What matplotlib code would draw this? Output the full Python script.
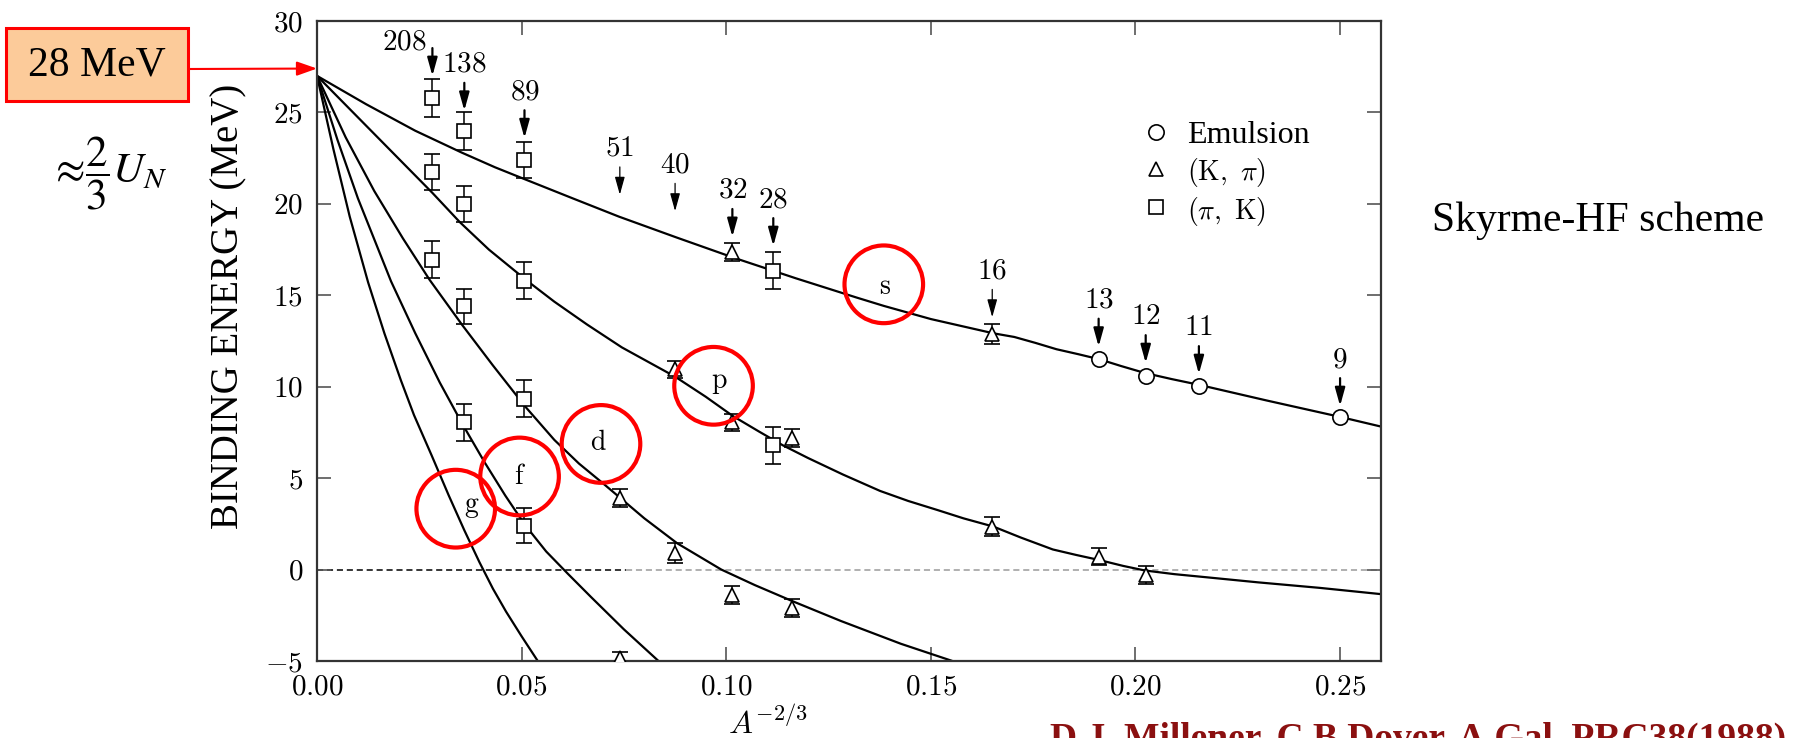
import matplotlib.pyplot as plt
from matplotlib.patches import Ellipse, Rectangle
from matplotlib.lines import Line2D
from matplotlib.ticker import FuncFormatter, MultipleLocator

plt.rcParams['font.family'] = ['Liberation Serif', 'DejaVu Serif']
plt.rcParams['mathtext.fontset'] = 'cm'

# Skyrme-HF curves for each Lambda orbit: A^-2/3 vs binding energy (MeV)
s_x = [0.0, 0.012, 0.024, 0.0354, 0.0435, 0.0513, 0.0625, 0.0738, 0.088, 0.1019,
       0.117, 0.1318, 0.1385, 0.15, 0.1653, 0.1704, 0.1755, 0.1807, 0.186, 0.1912,
       0.1965, 0.2023, 0.2088, 0.2156, 0.232, 0.25, 0.26]
s_y = [27.0, 25.45, 24.0, 22.8, 22.0, 21.3, 20.3, 19.3, 18.15, 17.05,
       15.93, 14.88, 14.42, 13.7, 12.92, 12.72, 12.4, 12.05, 11.78, 11.5,
       11.13, 10.75, 10.42, 10.1, 9.25, 8.35, 7.82]
p_x = [0.0, 0.0282, 0.0349, 0.042, 0.0513, 0.058, 0.066, 0.0745, 0.0875, 0.095,
       0.1016, 0.108, 0.1138, 0.12, 0.1285, 0.1376, 0.1445, 0.1517, 0.158, 0.1653,
       0.172, 0.1798, 0.1855, 0.1912, 0.197, 0.2023, 0.2095, 0.2173, 0.23, 0.245, 0.2603]
p_y = [27.0, 20.6, 19.0, 17.5, 15.8, 14.65, 13.4, 12.15, 10.55, 9.45,
       8.4, 7.55, 6.8, 6.1, 5.2, 4.3, 3.75, 3.25, 2.8, 2.35,
       1.75, 1.1, 0.8, 0.52, 0.2, -0.05, -0.25, -0.42, -0.7, -1.0, -1.35]
d_x = [0.0, 0.007, 0.014, 0.021, 0.0275, 0.0355, 0.043, 0.0509, 0.058, 0.064,
       0.0697, 0.0742, 0.08, 0.088, 0.0988, 0.107, 0.1161, 0.128, 0.1427, 0.155]
d_y = [27.0, 23.64, 20.7, 18.11, 15.85, 13.37, 11.16, 8.91, 7.09, 5.8,
       4.75, 3.9, 2.8, 1.44, 0.0, -0.85, -1.72, -2.81, -4.06, -4.98]
f_x = [0.0, 0.005, 0.010, 0.0181, 0.024, 0.030, 0.0355, 0.041, 0.046, 0.0509,
       0.056, 0.0613, 0.067, 0.075, 0.0833]
f_y = [27.0, 23.5, 20.3, 15.76, 12.93, 10.23, 7.97, 5.85, 4.05, 2.42,
       0.99, -0.23, -1.51, -3.27, -4.97]
g_x = [0.0, 0.004, 0.008, 0.0125, 0.0165, 0.0205, 0.0237, 0.028, 0.0322, 0.036,
       0.0397, 0.043, 0.0462, 0.05, 0.0538]
g_y = [27.0, 23.0, 19.3, 15.7, 12.9, 10.35, 8.45, 6.25, 4.05, 2.15,
       0.4, -1.05, -2.3, -3.65, -4.95]

# (pi,K) data
pik_x = [0.0282, 0.0360, 0.0507, 0.0282, 0.0360, 0.0282, 0.0507, 0.0360,
         0.1115, 0.0360, 0.0507, 0.0507, 0.1115]
pik_y = [25.8, 24.0, 22.4, 21.75, 20.0, 16.95, 15.8, 14.4,
         16.35, 8.05, 9.35, 2.4, 6.8]
pik_err = [1.05, 1.05, 1.0, 1.0, 1.0, 1.0, 1.0, 0.95, 1.0, 1.0, 1.0, 0.95, 1.0]

# (K,pi) data
kpi_x = [0.1015, 0.1650, 0.0875, 0.1015, 0.1160, 0.0740, 0.0875, 0.1015,
         0.1160, 0.0740, 0.1650, 0.1910, 0.2025]
kpi_y = [17.35, 12.9, 10.95, 8.05, 7.2, 3.9, 0.9, -1.4,
         -2.1, -4.85, 2.35, 0.7, -0.3]
kpi_err = [0.5, 0.55, 0.45, 0.45, 0.5, 0.5, 0.55, 0.5, 0.5, 0.35, 0.5, 0.47, 0.5]

# emulsion data
emu_x = [0.1910, 0.2025, 0.2155, 0.2500]
emu_y = [11.5, 10.6, 10.05, 8.35]

# mass-number markers above the s curve
mass_labels = ['208', '138', '89', '51', '40', '32', '28', '16', '13', '12', '11', '9']
mass_x = [0.0282, 0.0360, 0.0507, 0.0740, 0.0875, 0.1015, 0.1115, 0.1650,
          0.1910, 0.2025, 0.2155, 0.2500]
arrow_tip = [27.0, 25.1, 23.6, 20.5, 19.6, 18.2, 17.7, 13.8, 12.2, 11.3, 10.7, 8.95]

# orbit labels in red circles
orbits = ['s', 'p', 'd', 'f', 'g']
ring_x = [0.1385, 0.0969, 0.0694, 0.0495, 0.0339]
ring_y = [15.6, 10.05, 6.87, 5.09, 3.33]
letter_x = [0.1387, 0.0983, 0.0688, 0.0495, 0.0378]
letter_y = [15.42, 10.15, 6.87, 5.05, 3.42]

fig = plt.figure(figsize=(17.94, 7.38), dpi=100)
W, H = 1794, 738
ax = fig.add_axes([317 / W, 1 - 661 / H, (1381 - 317) / W, (661 - 21) / H])

for xs, ys in [(s_x, s_y), (p_x, p_y), (d_x, d_y), (f_x, f_y), (g_x, g_y)]:
    ax.plot(xs, ys, color='black', lw=1.6, zorder=2, solid_joinstyle='round')

ax.axhline(0, xmax=0.29, color='black', lw=1.1, ls=(0, (4, 2.5)), zorder=1)
ax.axhline(0, xmin=0.29, color='#9a9a9a', lw=1.1, ls=(0, (4, 2.5)), zorder=1)

ebar = dict(ls='none', color='black', mfc='white', mec='black', mew=1.2,
            elinewidth=1.1, capsize=6, capthick=1.1, zorder=3)
ax.errorbar(pik_x, pik_y, yerr=pik_err, marker='s', ms=9.5, **ebar)
ax.errorbar(kpi_x, kpi_y, yerr=kpi_err, marker='^', ms=10.5, **ebar)
ax.plot(emu_x, emu_y, ls='none', marker='o', ms=11, mfc='white', mec='black',
        mew=1.2, zorder=3)

for lab, x, tip in zip(mass_labels, mass_x, arrow_tip):
    light = lab in ('51', '40', '16')
    ax.annotate('', xy=(x, tip), xytext=(0, 20), textcoords='offset points',
                arrowprops=dict(arrowstyle='-|>,head_length=0.54,head_width=0.15',
                                mutation_scale=20, color='black',
                                lw=0.9 if light else 1.6, shrinkA=0, shrinkB=0))
    off = (-20.6, 24) if lab == '208' else (0, 33)
    ax.annotate(f'${lab}$', xy=(x, tip), xytext=off, textcoords='offset points',
                ha='center', va='center', fontsize=21)

for name, cx, cy, lx, ly in zip(orbits, ring_x, ring_y, letter_x, letter_y):
    ax.add_patch(Ellipse((cx, cy), 0.0192, 4.25, fill=False, ec='red', lw=3, zorder=4))
    ax.text(lx, ly, rf'$\mathrm{{{name}}}$', ha='center', va='center', fontsize=20, zorder=5)

handles = [Line2D([], [], ls='none', marker='o', ms=11, mfc='white', mec='black', mew=1.2),
           Line2D([], [], ls='none', marker='^', ms=10.5, mfc='white', mec='black', mew=1.2),
           Line2D([], [], ls='none', marker='s', ms=9.5, mfc='white', mec='black', mew=1.2)]
leg = ax.legend(handles, ['Emulsion', r'$(\mathrm{K},\ \pi)$', r'$(\pi,\ \mathrm{K})$'],
                loc='upper left', bbox_to_anchor=(0.2011, 24.55), bbox_transform=ax.transData,
                frameon=False, fontsize=23, handlelength=1.0, handletextpad=0.47,
                labelspacing=0.18, borderpad=0, borderaxespad=0)
for t in leg.get_texts()[1:]:
    t.set_fontsize(20)

ax.set_xlim(0, 0.26)
ax.set_ylim(-5, 30)
ax.xaxis.set_major_locator(MultipleLocator(0.05))
ax.yaxis.set_major_locator(MultipleLocator(5))
ax.xaxis.set_major_formatter(FuncFormatter(lambda v, _: f'${v:.2f}$'))
ax.yaxis.set_major_formatter(FuncFormatter(lambda v, _: f'${v:.0f}$'))
ax.tick_params(direction='in', length=10, width=1.2, color='#555', top=True,
               right=True, labelsize=21, pad=10)
for sp in ax.spines.values():
    sp.set_linewidth(1.6)
    sp.set_color('#333')

fig.text(229 / W, 1 - 306 / H, 'BINDING ENERGY (MeV)', rotation=90,
         ha='center', va='center', fontsize=28)
fig.text(768 / W, 1 - 734 / H, r'$A^{-2/3}$', ha='center', va='baseline', fontsize=23)

# 28 MeV callout with arrow to the common origin of the curves
fig.add_artist(Rectangle((6 / W, 1 - 101 / H), 182 / W, 73 / H, transform=fig.transFigure,
                         fc='#FCCB9A', ec='red', lw=2.2))
fig.text(97 / W, 1 - 65 / H, '28 MeV', ha='center', va='center', fontsize=30)
ax.annotate('', xy=(0, 27.4), xycoords='data', xytext=(188 / W, 1 - 69 / H),
            textcoords='figure fraction', annotation_clip=False,
            arrowprops=dict(arrowstyle='-|>,head_length=1.22,head_width=0.43',
                            mutation_scale=10, color='red', lw=1.5, shrinkA=0, shrinkB=0))
fig.text(108 / W, 1 - 173 / H, r'$\approx\!\dfrac{2}{3}U_N$', ha='center', va='center',
         fontsize=31, math_fontfamily='stix')

fig.text(1432 / W, 1 - 231 / H, 'Skyrme-HF scheme', ha='left', va='baseline', fontsize=30)
fig.text(1050 / W, 1 - 749 / H, 'D.J. Millener, C.B.Dover, A.Gal, PRC38(1988)',
         ha='left', va='baseline', fontsize=27, fontweight='bold', color='#8B1010')

fig.savefig('out.png', dpi=100)
